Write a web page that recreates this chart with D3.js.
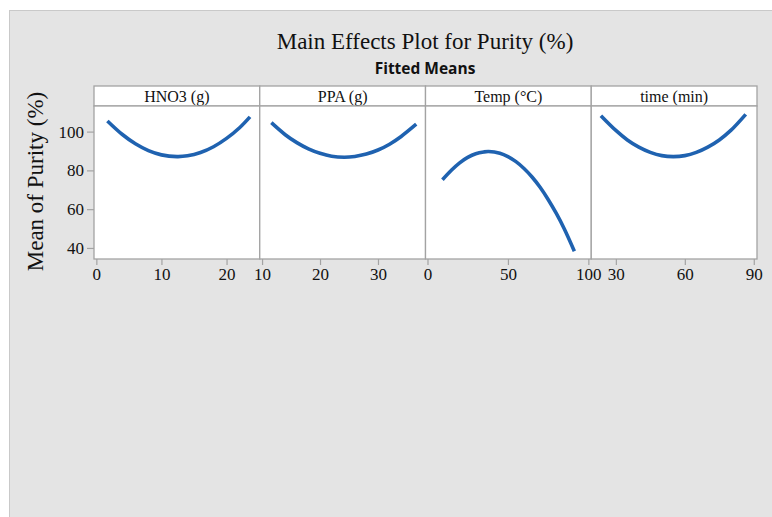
<!DOCTYPE html>
<html>
<head>
<meta charset="utf-8">
<script src="https://cdn.jsdelivr.net/npm/d3@7"></script>
<style>
  html, body { margin: 0; padding: 0; background: #ffffff; }
  svg { display: block; }
  .serif { font-family: 'Liberation Serif', 'Times New Roman', serif; }
</style>
</head>
<body>
<svg id="chart" width="772" height="517"></svg>
<script>
// ---- Data ----
const factors = ["HNO3 (g)", "PPA (g)", "Temp (°C)", "time (min)"];
const xDomains = [[-0.36, 25.1], [9.6, 38.2], [-1.24, 101.8], [19.3, 91.4]];
const xTicks = [[0, 10, 20], [10, 20, 30], [0, 50, 100], [30, 60, 90]];
const yTicks = [40, 60, 80, 100];
const yDomain = [34.3, 113.2];

const hno3X = [1.7, 4, 6, 8, 10, 12.4, 14, 16, 18, 20, 22, 23.6];
const hno3Y = [105.5, 98.5, 93.7, 90.2, 88.0, 87.1, 87.5, 89.2, 92.2, 96.5, 102.0, 107.6];
const ppaX = [11.6, 14, 16, 18, 20, 22, 24.2, 26, 28, 30, 32, 34, 36.6];
const ppaY = [104.6, 98.4, 94.3, 91.1, 88.8, 87.3, 86.8, 87.2, 88.4, 90.5, 93.5, 97.5, 103.8];
const tempX = [9.3, 15, 20, 25, 30, 35, 38, 45, 50, 55, 60, 65, 70, 75, 80, 85, 91.3];
const tempY = [75.2, 80.2, 83.9, 86.7, 88.6, 89.5, 89.7, 88.8, 87.1, 84.5, 81.0, 76.6, 71.3, 65.0, 57.9, 49.9, 38.3];
const timeX = [23.5, 30, 35, 40, 45, 50, 55, 60, 65, 70, 75, 80, 86.5];
const timeY = [108.2, 100.6, 95.7, 92.0, 89.3, 87.6, 87.1, 87.6, 89.3, 92.0, 95.7, 100.6, 108.9];

const seriesX = [hno3X, ppaX, tempX, timeX];
const seriesY = [hno3Y, ppaY, tempY, timeY];

// ---- Layout ----
const svg = d3.select("#chart");
const frameColor = "#a3a3a3";

svg.append("rect").attr("x", 9.5).attr("y", 10.5).attr("width", 775).attr("height", 520)
  .attr("fill", "#e4e4e4").attr("stroke", "#c9c9c9").attr("stroke-width", 1);

const plotLeft = 94, plotRight = 757, headTop = 86, plotTop = 106, plotBottom = 259;
const panelW = (plotRight - plotLeft) / factors.length;

const y = d3.scaleLinear().domain(yDomain).range([plotBottom, plotTop]);

// Title
svg.append("text").attr("class", "serif").attr("x", 425).attr("y", 49).attr("text-anchor", "middle")
  .style("font-size", "23px").attr("fill", "#111")
  .text("Main Effects Plot for Purity (%)");
svg.append("text").attr("x", 425).attr("y", 73.5).attr("text-anchor", "middle")
  .style("font-family", "'Open Sans', 'Noto Sans', sans-serif").style("font-weight", "bold")
  .style("font-size", "15.5px").attr("fill", "#111")
  .text("Fitted Means");

// Y axis title
svg.append("text").attr("class", "serif")
  .attr("transform", `translate(43,${(plotTop + plotBottom) / 2 - 1}) rotate(-90)`)
  .attr("text-anchor", "middle").style("font-size", "23px").attr("fill", "#111")
  .text("Mean of Purity (%)");

function styleAxis(g) {
  g.attr("font-family", null).attr("font-size", null);
  g.select(".domain").remove();
  g.selectAll(".tick line").attr("stroke", frameColor).attr("stroke-width", 1.2);
  g.selectAll(".tick text").attr("class", "serif")
    .style("font-family", "'Liberation Serif', 'Times New Roman', serif")
    .style("font-size", "17px").attr("fill", "#111");
}

// Y axis (left)
const yAxisG = svg.append("g").attr("transform", `translate(${plotLeft},0)`)
  .call(d3.axisLeft(y).tickValues(yTicks).tickSize(7).tickPadding(3).tickFormat(d3.format("d")));
styleAxis(yAxisG);

const line = d3.line().curve(d3.curveCatmullRom.alpha(0.5));

factors.forEach((name, i) => {
  const x0 = plotLeft + i * panelW, x1 = x0 + panelW;
  const x = d3.scaleLinear().domain(xDomains[i]).range([x0, x1]);

  // header
  svg.append("rect").attr("x", x0).attr("y", headTop).attr("width", panelW).attr("height", plotTop - headTop)
    .attr("fill", "#ffffff").attr("stroke", frameColor).attr("stroke-width", 1.3);
  svg.append("text").attr("class", "serif").attr("x", (x0 + x1) / 2).attr("y", 102).attr("text-anchor", "middle")
    .style("font-size", "16px").attr("fill", "#111").text(name);

  // plot
  svg.append("rect").attr("x", x0).attr("y", plotTop).attr("width", panelW).attr("height", plotBottom - plotTop)
    .attr("fill", "#ffffff").attr("stroke", frameColor).attr("stroke-width", 1.3);

  // x axis
  const xg = svg.append("g").attr("transform", `translate(0,${plotBottom})`)
    .call(d3.axisBottom(x).tickValues(xTicks[i]).tickSize(6).tickPadding(3).tickFormat(d3.format("d")));
  styleAxis(xg);

  // curve
  const pts = seriesX[i].map((v, k) => [x(v), y(seriesY[i][k])]);
  svg.append("path").attr("d", line(pts)).attr("fill", "none")
    .attr("stroke", "#1f62b0").attr("stroke-width", 3.6).attr("stroke-linecap", "butt");
});
</script>
</body>
</html>
